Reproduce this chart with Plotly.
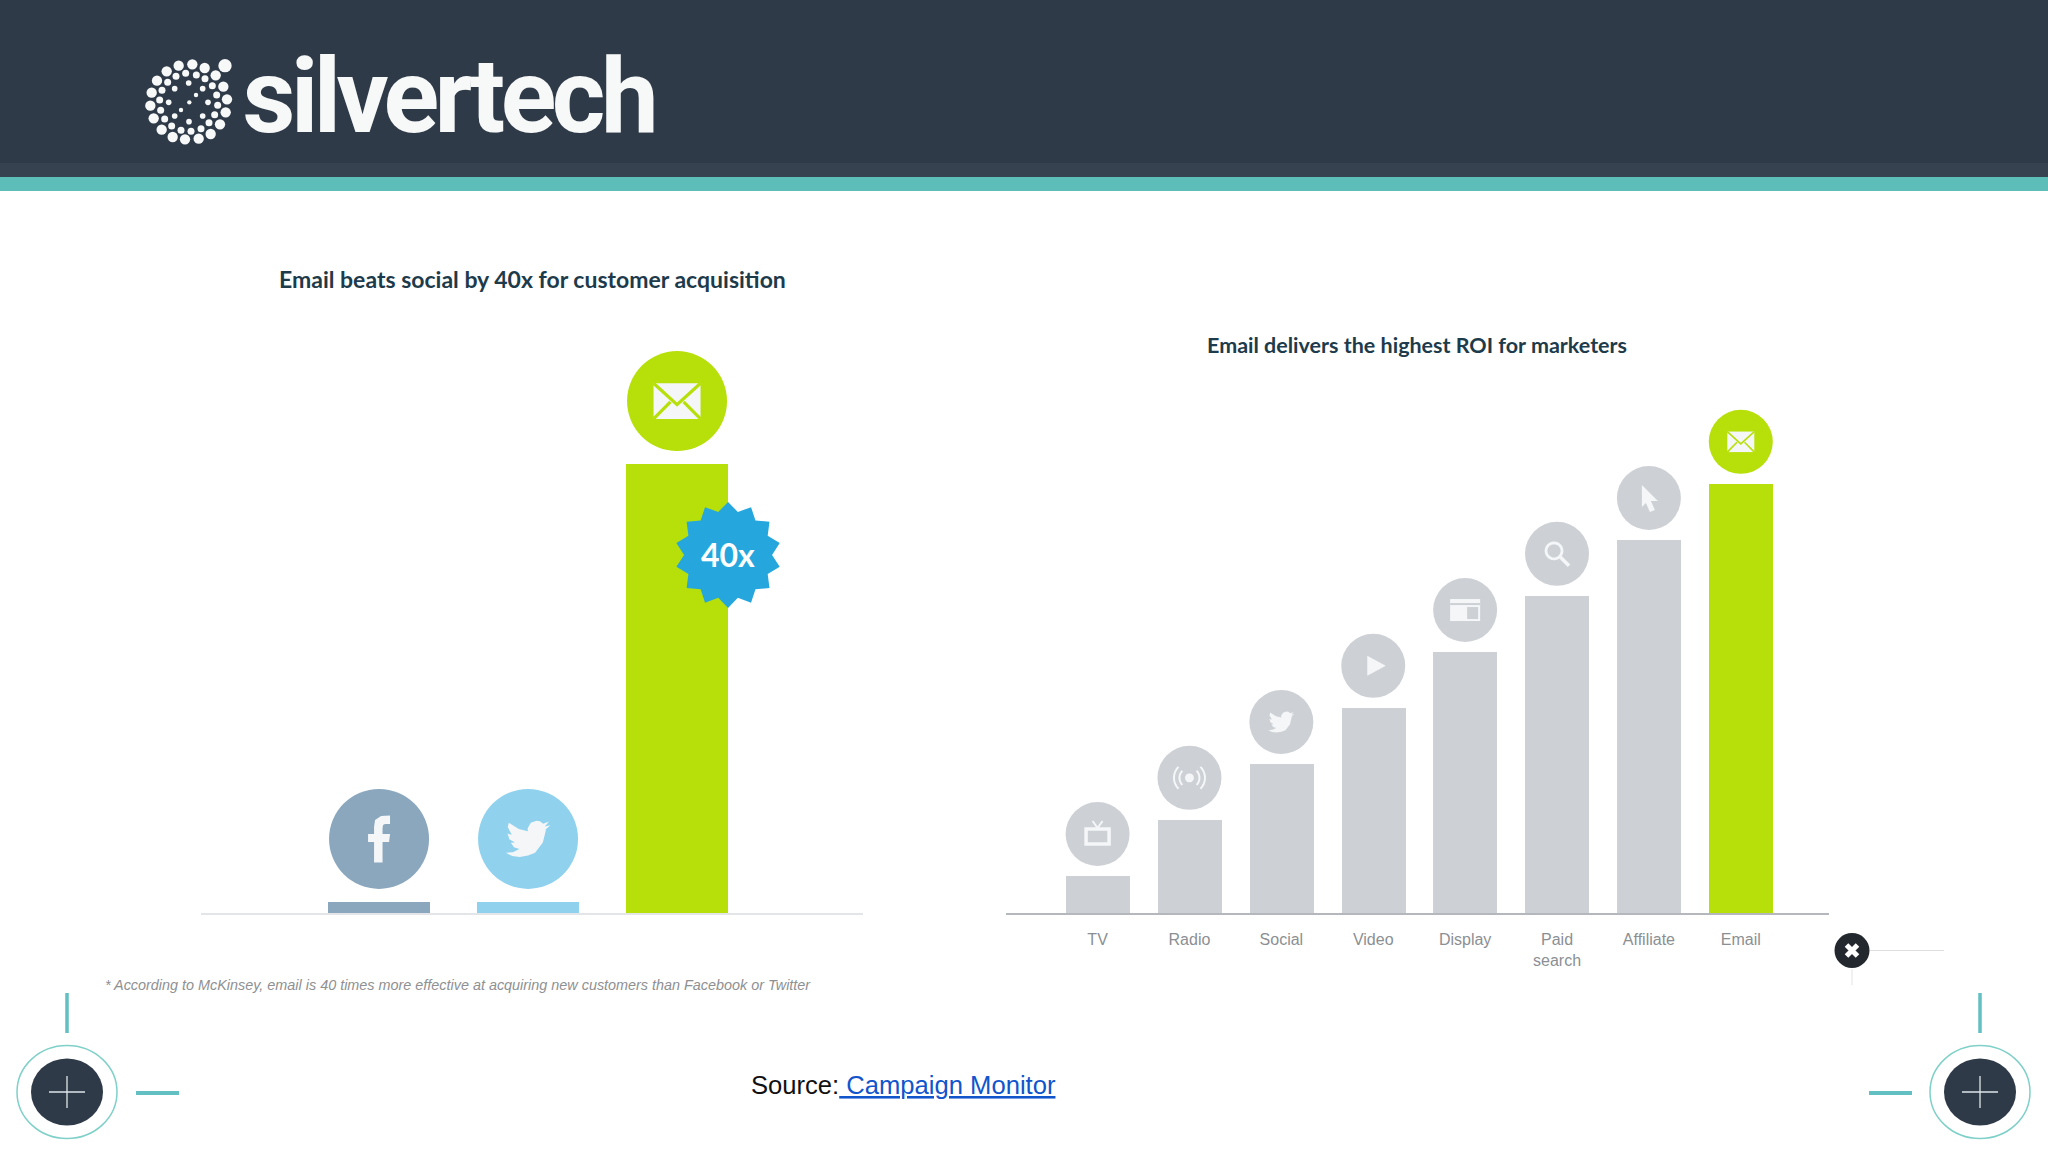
import math
import plotly.graph_objects as go

# ---------- data ----------
social_categories = ["Facebook", "Twitter", "Email"]
social_values = [1, 1, 40]
social_colors = ["#8aa7bd", "#90d2ee", "#b7e00a"]
roi_categories = ["TV", "Radio", "Social", "Video", "Display", "Paid<br>search", "Affiliate", "Email"]
roi_values = [8.6, 21.7, 34.7, 47.8, 60.8, 73.9, 86.9, 100]
roi_colors = ["#cdd0d5"] * 7 + ["#b7e00a"]
title_left = "Email beats social by 40x for customer acquisition"
title_right = "Email delivers the highest ROI for marketers"
footnote = "* According to McKinsey, email is 40 times more effective at acquiring new customers than Facebook or Twitter"
badge_label = "40x"
logo_label = "silvertech"
logo_dots_x = [270,209,172,131,95,66,50,46,56,80,113,150,191,227,255,272,276,265,242,
               210,184,152,123,98,81,74,77,89,110,138,168,198,222,239,248,245,232,
               203,161,119,101,119,162,203,219,183,163,138]
logo_dots_y = [47,54,43,47,64,92,128,167,205,239,261,268,266,252,223,187,148,110,76,
               86,75,70,79,97,121,150,181,207,228,241,244,236,218,194,166,135,107,
               116,99,116,157,198,215,198,157,135,157,180]
logo_dots_size = [40]+[31]*18+[21]*18+[17]*8+[13]*3

W, H = 2048, 1152
def px(x): return x / W
def py(y): return 1 - y / H

BASE, TOP = 913, 250
NAVY = "#2e3a48"
TEAL = "#62bfc2"
GREEN = "#b7e00a"
GRAY = "#cdd0d5"
ICON = "#f4f6f8"
TITLE_C = "#1d3b4b"

shapes = []
def box(x0, y0, x1, y1, fill, layer="below"):
    shapes.append(dict(type="rect", xref="paper", yref="paper", x0=px(x0), x1=px(x1), y0=py(y0), y1=py(y1),
                       fillcolor=fill, line=dict(width=0), layer=layer))
def seg(x0, y0, x1, y1, color, width, layer="below"):
    shapes.append(dict(type="line", xref="paper", yref="paper", x0=px(x0), x1=px(x1), y0=py(y0), y1=py(y1),
                       line=dict(color=color, width=width), layer=layer))
def oval(cx, cy, rx, ry, fill=None, color=None, width=0, layer="below"):
    shapes.append(dict(type="circle", xref="paper", yref="paper", x0=px(cx-rx), x1=px(cx+rx), y0=py(cy-ry), y1=py(cy+ry),
                       fillcolor=fill if fill else "rgba(0,0,0,0)", line=dict(color=color or "rgba(0,0,0,0)", width=width), layer=layer))

def path(pts, close=True):
    s = "M" + " L".join(f"{x:.2f},{-y:.2f}" for x, y in pts)
    return s + (" Z" if close else "")

def glyph(axis, xa, ya, pts, fill=None, color=None, width=0, close=True, dx=0, dy=0, scale=1.0):
    pts = [(p[0]*scale+dx, p[1]*scale+dy) for p in pts]
    shapes.append(dict(type="path", xref=axis[0], yref=axis[1], xsizemode="pixel", ysizemode="pixel",
                       xanchor=xa, yanchor=ya, path=path(pts, close),
                       fillcolor=fill if fill else "rgba(0,0,0,0)",
                       line=dict(color=color or "rgba(0,0,0,0)", width=width), layer="above"))

def arc(cx, cy, r, a0, a1, n=14):
    return [(cx + r*math.cos(math.radians(a0+(a1-a0)*i/n)), cy + r*math.sin(math.radians(a0+(a1-a0)*i/n))) for i in range(n+1)]

BIRD = [(24,4.6),(21.1,5.35),(23.3,2.6),(20.2,3.8),(18.4,2.5),(16.6,2.2),(13.5,3.3),(11.8,6.2),(11.9,7.8),
        (7,6.7),(1.6,3.2),(1,5.6),(3.2,9.7),(0.9,9.1),(1.9,12.2),(4.9,14),(2.7,14.1),(4.4,16.5),(7.3,17.5),
        (3.8,19.2),(0,19.5),(3.5,21.3),(7.5,21.8),(12,21),(15.8,19.5),(20,14),(21.6,7.4),(21.5,6.9)]
BIRD = [(x-12, y-12) for x, y in BIRD]

def mail(axis, xa, ya, w, bg, lw):
    h = w * 0.76
    glyph(axis, xa, ya, [(-w/2,-h/2),(w/2,-h/2),(w/2,h/2),(-w/2,h/2)], fill=ICON)
    glyph(axis, xa, ya, [(-w/2,-h/2),(0,h*0.1),(w/2,-h/2)], color=bg, width=lw, close=False)
    glyph(axis, xa, ya, [(-w/2,h/2),(-w*0.14,h*0.02)], color=bg, width=lw, close=False)
    glyph(axis, xa, ya, [(w/2,h/2),(w*0.14,h*0.02)], color=bg, width=lw, close=False)

# ---------- page furniture ----------
box(0, 0, W, 164, NAVY)
box(0, 163, W, 178, "#374250")
box(0, 177, W, 191, "#5dbdb9")
for cx in (67, 1980):
    oval(cx, 1092, 50, 46.5, color="#7fd0c8", width=1.5)
    oval(cx, 1092, 36, 33.5, fill=NAVY)
    seg(cx-18, 1092, cx+18, 1092, "#dfe6ea", 1.3)
    seg(cx, 1076, cx, 1108, "#dfe6ea", 1.3)
    seg(cx, 993, cx, 1033, TEAL, 3.5)
seg(136, 1093, 179, 1093, TEAL, 4)
seg(1869, 1093, 1912, 1093, TEAL, 4)
seg(1870, 950.5, 1944, 950.5, "#dedfe1", 1.2)
seg(1852, 969, 1852, 985, "#e6e7e8", 1.2)
oval(1852, 950.5, 17.5, 17.5, fill="#23272e")

fig = go.Figure()

# ---------- left chart ----------
fig.add_trace(go.Bar(x=list(range(3)), y=social_values, marker=dict(color=social_colors, line=dict(width=0)),
                     width=0.68, xaxis="x", yaxis="y", hovertext=social_categories, showlegend=False))
LEFT_OFF = 5.6
fig.add_trace(go.Scatter(x=list(range(3)), y=[v+LEFT_OFF for v in social_values], mode="markers",
                         marker=dict(size=100, color=social_colors, line=dict(width=0)),
                         xaxis="x", yaxis="y", showlegend=False))

# ---------- right chart ----------
fig.add_trace(go.Bar(x=list(range(8)), y=roi_values, marker=dict(color=roi_colors, line=dict(width=0)),
                     width=0.696, xaxis="x2", yaxis="y2", showlegend=False))
RIGHT_OFF = 9.8
fig.add_trace(go.Scatter(x=list(range(8)), y=[v+RIGHT_OFF for v in roi_values], mode="markers",
                         marker=dict(size=64, color=roi_colors, line=dict(width=0)),
                         xaxis="x2", yaxis="y2", showlegend=False))

# logo dots on a full-page overlay axis
fig.add_trace(go.Scatter(x=[135+v/3 for v in logo_dots_x], y=[50+v/3 for v in logo_dots_y], mode="markers",
                         marker=dict(size=[v/3 for v in logo_dots_size], color="#f7f8f8", opacity=1, line=dict(width=0)),
                         xaxis="x3", yaxis="y3", showlegend=False))

# ---------- icons, anchored to the bars ----------
L = ("x", "y")
R = ("x2", "y2")
ly = [v+LEFT_OFF for v in social_values]
ry = [v+RIGHT_OFF for v in roi_values]

F = [(-5,23.5),(-5,3),(-11,3),(-11,-5),(-5,-5),(-5,-12),(-4,-19),(2,-23),(11,-23.5),(11,-15),(6,-15),(4,-14),
     (3.5,-11),(3.5,-5),(11,-5),(10,3),(3.5,3),(3.5,23.5)]
glyph(L, 0, ly[0], F, fill=ICON)
glyph(L, 1, ly[1], BIRD, fill=ICON, scale=1.85)
mail(L, 2, ly[2], 47, GREEN, 3.2)

# 40x badge
star_y = 31.9
pts = []
for k in range(28):
    r = 53 if k % 2 == 0 else 44
    a = math.radians(-90 + k*360/28)
    pts.append((r*math.cos(a), r*math.sin(a)))
glyph(L, 2, star_y, pts, fill="#25a7de", dx=51)

# TV
glyph(R, 0, ry[0], [(-11.5,-5),(11.5,-5),(11.5,10),(-11.5,10)], color=ICON, width=3.5, dy=0)
glyph(R, 0, ry[0], [(-5,-13),(0,-6),(5,-13)], color=ICON, width=2, close=False)
# Radio
glyph(R, 1, ry[1], arc(0,0,4.5,0,360), fill=ICON)
for r0, w0 in ((10,2),(15.5,2)):
    glyph(R, 1, ry[1], arc(0,0,r0,-45,45), color=ICON, width=w0, close=False)
    glyph(R, 1, ry[1], arc(0,0,r0,135,225), color=ICON, width=w0, close=False)
# Social
glyph(R, 2, ry[2], BIRD, fill=ICON, scale=1.08)
# Video
glyph(R, 3, ry[3], [(-6,-10),(12.5,0),(-6,10)], fill=ICON)
# Display
glyph(R, 4, ry[4], [(-15,-11),(15,-11),(15,11),(-15,11)], fill=ICON)
glyph(R, 4, ry[4], [(-15,-6),(15,-6)], color=GRAY, width=2, close=False)
glyph(R, 4, ry[4], [(2,-3),(13,-3),(13,9),(2,9)], fill=GRAY)
# Search
glyph(R, 5, ry[5], arc(-3,-3,8,0,360,24), color=ICON, width=2.8)
glyph(R, 5, ry[5], [(3,3),(12,12)], color=ICON, width=3.5, close=False)
# Cursor
glyph(R, 6, ry[6], [(-7,-13),(9,3),(2,3),(6,12),(1,14),(-3,5),(-7,9)], fill=ICON)
# Mail
mail(R, 7, ry[7], 27, GREEN, 1.6)

# close glyph
shapes.append(dict(type="path", xref="paper", yref="paper", layer="above",
    path=f"M{px(1846.5)},{py(945)} L{px(1857.5)},{py(956)} M{px(1857.5)},{py(945)} L{px(1846.5)},{py(956)}",
    line=dict(color="#ffffff", width=5)))

# ---------- text ----------
def note(text, x, y, size, color, family, xanchor="center"):
    return dict(text=text, xref="paper", yref="paper", x=px(x), y=py(y), xanchor=xanchor, yanchor="middle",
                showarrow=False, font=dict(size=size, color=color, family=family))

annotations = [
    note(f"<b>{logo_label}</b>", 448, 97, 103, "#f7f8f8", "Roboto"),
    note(f"<b>{title_left}</b>", 532.5, 279, 23, TITLE_C, "Lato"),
    note(f"<b>{title_right}</b>", 1416.5, 345, 21.5, TITLE_C, "Lato"),
    note(f"<i>{footnote}</i>", 103, 985, 14.4, "#8e9092", "Liberation Sans", xanchor="left"),
    note('Source:<span style="color:#1155cc"><u> Campaign Monitor</u></span>', 749, 1085, 25.6, "#111111",
         "Liberation Sans", xanchor="left"),
    dict(text=f"<b>{badge_label}</b>", xref="x", yref="y", x=2, y=star_y, xshift=51, showarrow=False,
         font=dict(size=32, color="#ffffff", family="Lato"), xanchor="center", yanchor="middle"),
]

hidden_y = dict(visible=False, fixedrange=True)
fig.update_layout(
    width=W, height=H, autosize=False, margin=dict(l=0, r=0, t=0, b=0),
    paper_bgcolor="#ffffff", plot_bgcolor="rgba(0,0,0,0)", showlegend=False, hovermode=False,
    shapes=shapes, annotations=annotations, bargap=0,
    xaxis=dict(domain=[px(201), px(863)], range=[-1.195, 3.248], showgrid=False, zeroline=False,
               showline=True, linecolor="#e3e5e8", linewidth=2, tickvals=[], anchor="y", fixedrange=True),
    yaxis=dict(domain=[py(BASE), py(TOP)], range=[0, 59.06], anchor="x", **hidden_y),
    xaxis2=dict(domain=[px(1005.7), px(1829)], range=[-1, 7.96], showgrid=False, zeroline=False,
                showline=True, linecolor="#b4b7bb", linewidth=2, tickmode="array",
                tickvals=list(range(8)), ticktext=roi_categories, ticks="outside", ticklen=11,
                tickcolor="rgba(0,0,0,0)", tickfont=dict(size=16, color="#8b8f93", family="Liberation Sans"),
                anchor="y2", fixedrange=True),
    yaxis2=dict(domain=[py(BASE), py(TOP)], range=[0, 154.5], anchor="x2", **hidden_y),
    xaxis3=dict(domain=[0, 1], range=[0, W], visible=False, anchor="y3", fixedrange=True),
    yaxis3=dict(domain=[0, 1], range=[H, 0], visible=False, anchor="x3", fixedrange=True),
)

tighten = ("document.body.style.margin='0';document.body.style.overflow='hidden';"
           "document.querySelectorAll('.annotation-text').forEach(function(t){"
           "if(t.textContent==='" + logo_label + "'){t.style.letterSpacing='-4.5px';}});")
fig.write_html("out.html", config={"displayModeBar": False}, post_script=tighten)
